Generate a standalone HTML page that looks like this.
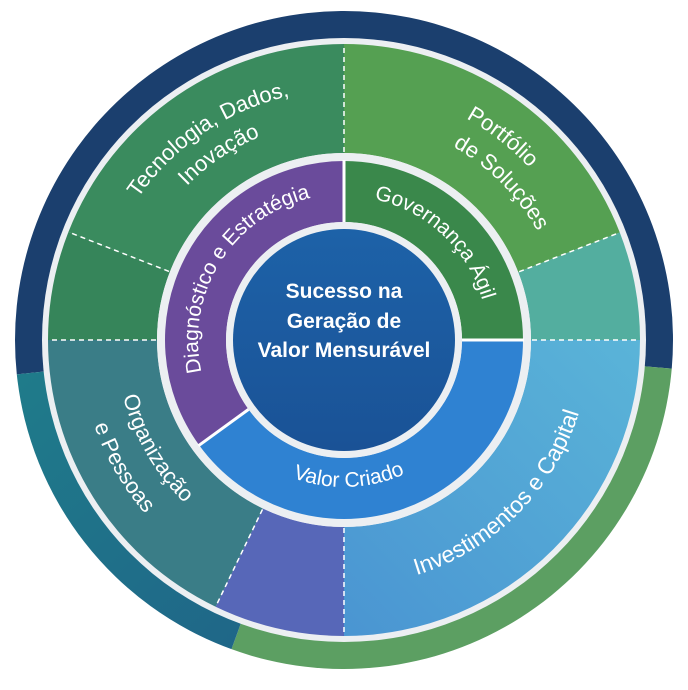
<!DOCTYPE html>
<html><head><meta charset="utf-8"><style>
html,body{margin:0;padding:0;background:#fff;width:688px;height:690px;overflow:hidden}
svg{display:block}
text{font-family:"Liberation Sans",sans-serif;fill:#fff}
</style></head><body>
<svg id="s" width="688" height="690" viewBox="0 0 688 690">
<defs>
<linearGradient id="gc" x1="0" y1="0" x2="0" y2="1"><stop offset="0" stop-color="#1d62a8"/><stop offset="1" stop-color="#1a5296"/></linearGradient>
<linearGradient id="gi" x1="0" y1="1" x2="1" y2="0"><stop offset="0" stop-color="#4a95d2"/><stop offset="1" stop-color="#5ab4d8"/></linearGradient>
<linearGradient id="gt" x1="0" y1="0" x2="1" y2="1"><stop offset="0" stop-color="#1f7d8a"/><stop offset="1" stop-color="#1f6288"/></linearGradient>
</defs>
<g id="shapes"></g>
<g id="paths"></g>
<circle cx="344" cy="340" r="111" fill="url(#gc)"/>
<text font-size="21" font-weight="bold" text-anchor="middle"><tspan x="344" y="298">Sucesso na</tspan><tspan x="344" y="328">Geração de</tspan><tspan x="344" y="357">Valor Mensurável</tspan></text>
<text font-size="22" text-anchor="middle"><textPath href="#pTec" startOffset="50%">Tecnologia, Dados,</textPath></text>
<text font-size="22" text-anchor="middle"><textPath href="#pIno" startOffset="50%">Inovação</textPath></text>
<text font-size="22" text-anchor="middle"><textPath href="#pPor" startOffset="50%">Portfólio</textPath></text>
<text font-size="22" text-anchor="middle"><textPath href="#pSol" startOffset="50%">de Soluções</textPath></text>
<text font-size="21" text-anchor="middle"><textPath href="#pDia" startOffset="50%">Diagnóstico e Estratégia</textPath></text>
<text font-size="21" text-anchor="middle"><textPath href="#pGov" startOffset="50%">Governança Ágil</textPath></text>
<text font-size="21" text-anchor="middle"><textPath href="#pVal" startOffset="50%">Valor Criado</textPath></text>
<text font-size="22" text-anchor="middle"><textPath href="#pOrg" startOffset="50%">Organização</textPath></text>
<text font-size="22" text-anchor="middle"><textPath href="#pPes" startOffset="50%">e Pessoas</textPath></text>
<text font-size="23" text-anchor="middle"><textPath href="#pInv" startOffset="50%">Investimentos e Capital</textPath></text>
</svg>
<script>
var cx=344,cy=340;
function P(r,a){a=a*Math.PI/180;return [cx+r*Math.sin(a),cy-r*Math.cos(a)];}
function sector(r1,r2,a1,a2){
 var la=(a2-a1)>180?1:0;var A=P(r2,a1),B=P(r2,a2),C=P(r1,a2),D=P(r1,a1);
 return "M"+A+"A"+r2+","+r2+" 0 "+la+" 1 "+B+"L"+C+"A"+r1+","+r1+" 0 "+la+" 0 "+D+"Z";}
function arc(r,a1,a2){var A=P(r,a1),B=P(r,a2);var sw=a2>a1?1:0;var la=Math.abs(a2-a1)>180?1:0;
 return "M"+A+"A"+r+","+r+" 0 "+la+" "+sw+" "+B;}
var h="";
function S(r1,r2,a1,a2,f){h+='<path d="'+sector(r1,r2,a1,a2)+'" fill="'+f+'"/>';}
S(0,329,-96,95,"#1b3f6e");
S(0,329,95,200,"#5c9f62");
S(0,329,200,264,"url(#gt)");
h+='<circle cx="'+cx+'" cy="'+cy+'" r="302" fill="#eceff2"/>';
S(187,296,-68.6,0,"#3a8b5e");
S(187,296,-90,-68.6,"#36855a");
S(187,296,0,68.7,"#55a052");
S(187,296,68.7,90,"#53ae9f");
S(187,296,90,180,"url(#gi)");
S(187,296,180,205.7,"#5767b8");
S(187,296,205.7,270,"#3a7d87");
h+='<circle cx="'+cx+'" cy="'+cy+'" r="187" fill="#eceff2"/>';
S(118,179,-126,0,"#6a4b9b");
S(118,179,0,90,"#3a884b");
S(118,179,90,234,"#2f82d2");
h+='<circle cx="'+cx+'" cy="'+cy+'" r="118" fill="#eceff2"/>';
function L(r1,r2,a,dash,w){var A=P(r1,a),B=P(r2,a);h+='<line x1="'+A[0]+'" y1="'+A[1]+'" x2="'+B[0]+'" y2="'+B[1]+'" stroke="#fff" stroke-width="'+w+'"'+(dash?' stroke-dasharray="5,4"':'')+'/>';}
[0,-68.6,68.7,-90,90,180,205.7].forEach(function(a){L(188,295,a,true,1.5);});
[0,90,234].forEach(function(a){L(118,180,a,false,3);});
document.getElementById("shapes").innerHTML=h;
var d="";
function T(id,r,a1,a2){d+='<path id="'+id+'" d="'+arc(r,a1,a2)+'" fill="none"/>';}
T("pTec",250,266,386);
T("pIno",220,266,386);
T("pPor",253,-22,98);
T("pSol",222,-15,105);
T("pDia",146,242,362);
T("pGov",144,-17,103);
T("pVal",147,238,118);
T("pOrg",228,300,180);
T("pPes",264,300,180);
T("pInv",246,195,75);
document.getElementById("paths").innerHTML=d;
</script>
</body></html>
